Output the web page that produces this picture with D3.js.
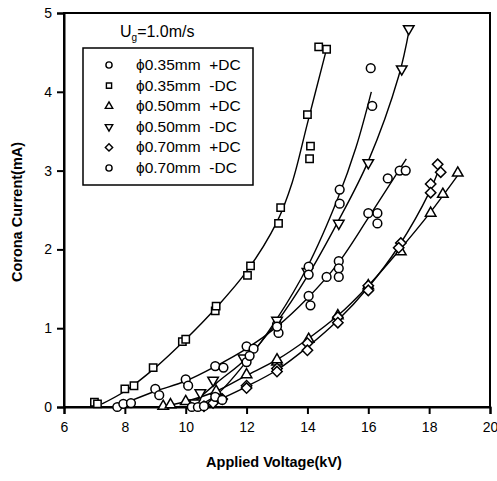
<!DOCTYPE html>
<html>
<head>
<meta charset="utf-8">
<script src="https://cdn.jsdelivr.net/npm/d3@7"></script>
<style>
    body { margin: 0; background: #fff; }
    svg text { font-family: "Liberation Sans", Arial, sans-serif; fill: #000; }
</style>
</head>
<body>
<div id="wrapper"></div>
<script>
// punkter, [spänning kV, ström mA]
const xTicks = [6, 8, 10, 12, 14, 16, 18, 20];
const yTicks = [0, 1, 2, 3, 4, 5];

const seriesNames = ["\u03d50.35mm  +DC", "\u03d50.35mm  -DC", "\u03d50.50mm  +DC", "\u03d50.50mm  -DC", "\u03d50.70mm  +DC", "\u03d50.70mm  -DC"];
const seriesSymbols = ["circle", "square", "triUp", "triDown", "diamond", "circle"];

const pos035 = [[7.75, 0.0], [7.95, 0.04], [8.2, 0.05], [9.0, 0.23], [9.13, 0.15], [10.0, 0.35], [10.08, 0.27],
    [10.97, 0.52], [11.24, 0.5], [12.0, 0.77], [12.23, 0.74], [13.0, 1.05], [13.05, 0.94], [14.04, 1.41], [14.1, 1.29],
    [14.63, 1.65], [15.03, 1.85], [15.03, 1.76], [15.03, 1.65], [16.0, 2.46], [16.3, 2.46], [16.3, 2.33],
    [16.64, 2.9], [17.03, 3.0], [17.23, 3.0]];
const neg035 = [[7.0, 0.06], [7.1, 0.04], [8.0, 0.23], [8.3, 0.27], [8.93, 0.5], [9.89, 0.83], [10.0, 0.86],
    [10.97, 1.22], [11.0, 1.28], [12.03, 1.67], [12.13, 1.79], [13.05, 2.33], [13.12, 2.53], [14.0, 3.71],
    [14.07, 3.15], [14.1, 3.31], [14.37, 4.57], [14.63, 4.54]];
const pos050 = [[9.26, 0.01], [9.5, 0.03], [10.0, 0.07], [11.0, 0.2], [12.0, 0.41], [13.0, 0.57], [13.0, 0.6],
    [14.04, 0.86], [15.0, 1.16], [16.0, 1.54], [17.07, 1.97], [18.05, 2.46], [18.45, 2.7], [18.94, 2.97]];
const neg050 = [[10.3, 0.05], [10.48, 0.18], [10.9, 0.34], [11.9, 0.62], [13.0, 1.1], [14.0, 1.72], [15.03, 2.33],
    [16.0, 3.1], [17.1, 4.29], [17.33, 4.8]];
const pos070 = [[10.6, 0.01], [10.9, 0.05], [11.2, 0.1], [12.0, 0.27], [12.0, 0.24], [13.0, 0.49], [13.0, 0.45],
    [14.0, 0.81], [14.0, 0.72], [15.0, 1.14], [15.0, 1.07], [16.0, 1.54], [16.0, 1.48], [17.07, 2.08], [17.0, 2.02],
    [18.05, 2.83], [18.05, 2.72], [18.28, 3.08], [18.38, 2.98]];
const neg070 = [[10.2, 0.0], [10.4, 0.0], [10.6, 0.01], [10.97, 0.13], [11.2, 0.09], [12.0, 0.57], [12.1, 0.65],
    [13.0, 1.02], [14.04, 1.78], [14.04, 1.68], [15.06, 2.76], [15.06, 2.58], [16.13, 3.82], [16.08, 4.3]];

// anpassade kurvor
const fitPos035 = [[7.8, 0.02], [8, 0.05], [9, 0.2], [10, 0.33], [11, 0.52], [12, 0.74], [13, 1.02], [14, 1.38], [15, 1.82], [16, 2.4], [17, 3.0], [17.25, 3.15]];
const fitNeg035 = [[7.25, 0.04], [8, 0.2], [9, 0.5], [10, 0.86], [11, 1.26], [12, 1.72], [13, 2.35], [13.5, 2.85], [14, 3.6], [14.6, 4.5]];
const fitPos050 = [[9.2, 0.0], [10, 0.07], [11, 0.2], [12, 0.4], [13, 0.6], [14, 0.86], [15, 1.16], [16, 1.54], [17, 1.98], [18, 2.45], [19, 2.97]];
const fitNeg050 = [[10.1, 0.0], [11, 0.3], [12, 0.62], [13, 1.08], [14, 1.66], [15, 2.35], [16, 3.12], [17, 4.2], [17.35, 4.8]];
const fitPos070 = [[10.4, 0.0], [11, 0.08], [12, 0.26], [13, 0.47], [14, 0.76], [15, 1.1], [16, 1.52], [17, 2.04], [18, 2.72], [18.35, 3.05]];
const fitNeg070 = [[10.3, 0.0], [11, 0.15], [12, 0.58], [13, 1.12], [14, 1.78], [15, 2.65], [15.6, 3.3], [16.1, 4.0]];

const seriesPoints = [pos035, neg035, pos050, neg050, pos070, neg070];
const seriesFits = [fitPos035, fitNeg035, fitPos050, fitNeg050, fitPos070, fitNeg070];


function coronaGraf(parent) {

    const wsvg = 497;
    const hsvg = 481;

    const svg = d3.select(parent).append("svg")
        .attr("width", wsvg)
        .attr("height", hsvg)
        .attr("viewBox", `0 0 ${wsvg} ${hsvg}`);

    const xScale = d3.scaleLinear([6, 20], [64, 490]);
    const yScale = d3.scaleLinear([0, 5], [407, 13]);

    // ram
    svg.append("rect")
        .attr("x", xScale(6))
        .attr("y", yScale(5))
        .attr("width", xScale(20) - xScale(6))
        .attr("height", yScale(0) - yScale(5))
        .attr("fill", "none")
        .attr("stroke", "#000")
        .attr("stroke-width", 2);

    const xAxis = d3.axisBottom(xScale).tickValues(xTicks).tickSize(7).tickPadding(8).tickFormat(d3.format("d"));
    const yAxis = d3.axisLeft(yScale).tickValues(yTicks).tickSize(7).tickPadding(5).tickFormat(d3.format("d"));

    const xAxisGroup = svg.append("g")
        .attr("transform", `translate(0, ${yScale(0)})`)
        .call(xAxis);
    const yAxisGroup = svg.append("g")
        .attr("transform", `translate(${xScale(6)}, 0)`)
        .call(yAxis);

    [xAxisGroup, yAxisGroup].forEach(g => {
        g.select(".domain").attr("stroke-width", 2);
        g.selectAll(".tick line").attr("stroke-width", 2);
        g.selectAll(".tick text").attr("font-size", 14).attr("font-family", "'Liberation Sans', Arial, sans-serif");
    });

    svg.append("text")
        .attr("x", 274)
        .attr("y", 467)
        .attr("text-anchor", "middle")
        .attr("font-size", 14.5)
        .attr("font-weight", "bold")
        .text("Applied Voltage(kV)");

    svg.append("text")
        .attr("transform", `translate(22, 212) rotate(-90)`)
        .attr("text-anchor", "middle")
        .attr("font-size", 14.5)
        .attr("font-weight", "bold")
        .text("Corona Current(mA)");

    // symboler
    function symbolPath(type, size) {
        if (type === "circle") return d3.symbol(d3.symbolCircle, size)();
        if (type === "square" || type === "diamond") return d3.symbol(d3.symbolSquare, size * 0.9)();
        return d3.symbol(d3.symbolTriangle, size * 0.8)();
    }
    function symbolRotate(type) {
        if (type === "triDown") return " rotate(180)";
        if (type === "diamond") return " rotate(45)";
        return "";
    }

    const line = d3.line()
        .x(d => xScale(d[0]))
        .y(d => yScale(d[1]))
        .curve(d3.curveCatmullRom);

    seriesFits.forEach(fit => {
        svg.append("path")
            .attr("d", line(fit))
            .attr("fill", "none")
            .attr("stroke", "#000")
            .attr("stroke-width", 1.4);
    });

    seriesPoints.forEach((points, i) => {
        const type = seriesSymbols[i];
        svg.append("g").selectAll("path")
            .data(points)
            .enter()
            .append("path")
            .attr("d", symbolPath(type, 60))
            .attr("transform", d => `translate(${xScale(d[0])}, ${yScale(d[1])})${symbolRotate(type)}`)
            .attr("fill", "#fff")
            .attr("stroke", "#000")
            .attr("stroke-width", 1.5);
    });

    // legend
    const legendTitle = svg.append("text")
        .attr("x", 120)
        .attr("y", 37)
        .attr("font-size", 16);
    legendTitle.append("tspan").text("U");
    legendTitle.append("tspan").attr("font-size", 10).attr("dy", 4).text("g");
    legendTitle.append("tspan").attr("dy", -4).text("=1.0m/s");

    svg.append("rect")
        .attr("x", 83)
        .attr("y", 48)
        .attr("width", 170)
        .attr("height", 137)
        .attr("fill", "#fff")
        .attr("stroke", "#000")
        .attr("stroke-width", 1.5);

    const legendRows = svg.append("g").selectAll("g")
        .data(seriesNames)
        .enter()
        .append("g")
        .attr("transform", (d, i) => `translate(0, ${65 + i * 20.6})`);

    legendRows.append("path")
        .attr("d", (d, i) => symbolPath(seriesSymbols[i], 30))
        .attr("transform", (d, i) => `translate(109, 0)${symbolRotate(seriesSymbols[i])}`)
        .attr("fill", "#fff")
        .attr("stroke", "#000")
        .attr("stroke-width", 1.4);

    legendRows.append("text")
        .attr("x", 136)
        .attr("y", 5)
        .attr("font-size", 15.5)
        .style("white-space", "pre")
        .text(d => d);
}

coronaGraf(document.querySelector("#wrapper"));
</script>
</body>
</html>
